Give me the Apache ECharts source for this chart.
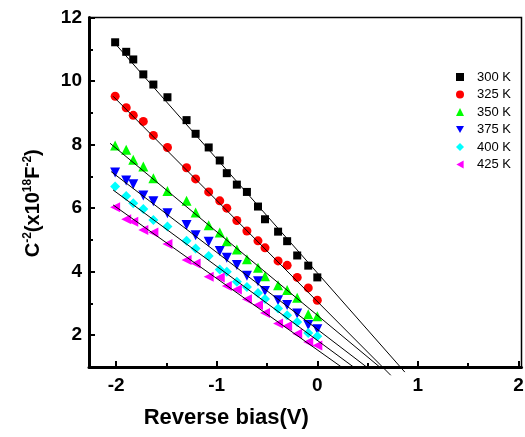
<!DOCTYPE html>
<html lang="en">
<head>
  <meta charset="UTF-8">
  <title>C-V plot</title>
  <script src="https://cdn.jsdelivr.net/npm/echarts@6/dist/echarts.min.js"></script>
  <style>
    html, body { margin: 0; padding: 0; background: #fff; }
    #chart { width: 525px; height: 437px; }
  </style>
</head>
<body>
  <div id="chart"></div>
  <script>
    // reverse bias voltages (shared by all temperatures)
    var bias = [-2.01, -1.90, -1.83, -1.73, -1.63, -1.49, -1.30, -1.21, -1.08, -0.97,
                -0.90, -0.80, -0.70, -0.59, -0.52, -0.39, -0.30, -0.20, -0.09, 0.00];

    var names = ['300 K', '325 K', '350 K', '375 K', '400 K', '425 K'];

    // C^-2 values (x10^18 F^-2)
    var c300 = [11.22, 10.92, 10.68, 10.21, 9.89, 9.49, 8.77, 8.34, 7.91, 7.50,
                7.10, 6.74, 6.51, 6.05, 5.65, 5.26, 4.96, 4.51, 4.19, 3.82];
    var c325 = [9.52, 9.16, 8.92, 8.73, 8.29, 7.91, 7.27, 6.92, 6.51, 6.23,
                6.00, 5.61, 5.28, 4.97, 4.75, 4.34, 4.20, 3.82, 3.49, 3.10];
    var c350 = [7.97, 7.84, 7.52, 7.31, 6.94, 6.54, 6.23, 5.86, 5.46, 5.23,
                4.96, 4.70, 4.39, 4.12, 3.86, 3.57, 3.42, 3.18, 2.66, 2.60];
    var c375 = [7.12, 6.87, 6.75, 6.40, 6.22, 5.84, 5.47, 5.15, 4.94, 4.65,
                4.44, 4.21, 3.87, 3.70, 3.39, 3.10, 2.95, 2.68, 2.32, 2.19];
    var c400 = [6.68, 6.38, 6.15, 5.97, 5.63, 5.42, 4.97, 4.73, 4.49, 4.07,
                4.00, 3.68, 3.52, 3.33, 3.14, 2.84, 2.63, 2.42, 2.07, 1.97];
    var c425 = [6.03, 5.65, 5.57, 5.31, 5.23, 4.87, 4.37, 4.26, 3.84, 3.82,
                3.55, 3.44, 3.13, 2.95, 2.70, 2.37, 2.29, 2.05, 1.79, 1.68];

    // linear fit lines: start and end points
    var fitX0 = [-2.03, -2.03, -2.06, -2.05, -2.03, -2.03];
    var fitY0 = [11.25, 9.52, 8.04, 7.15, 6.57, 6.10];
    var fitX1 = [0.87, 0.73, 0.62, 0.49, 0.36, 0.24];
    var fitY1 = [0.84, 0.74, 1.00, 1.00, 1.00, 1.00];

    var xMajor = [-2, -1, 0, 1, 2];
    var xMinor = [-1.5, -0.5, 0.5, 1.5];
    var yMajor = [2, 4, 6, 8, 10, 12];
    var yMinor = [3, 5, 7, 9, 11];

    var allData = [c300, c325, c350, c375, c400, c425];
    var colors = ['#000000', '#ff0000', '#00ff00', '#0000ff', '#00ffff', '#ff00ff'];
    var symbols = ['rect', 'circle', 'triangle', 'path://M0,0L10,0L5,9Z', 'diamond', 'path://M9,0L9,10L0,5Z'];
    var sizes = [8, 9, 10, 10, 10, 10];

    var chart = echarts.init(document.getElementById('chart'), null, { renderer: 'canvas' });
    var font = 'Liberation Sans, Arial, sans-serif';

    var series = [];
    for (var i = 0; i < names.length; i++) {
      var pts = [];
      for (var j = 0; j < bias.length; j++) {
        pts.push([bias[j], allData[i][j]]);
      }
      series.push({
        name: names[i],
        type: 'scatter',
        symbol: symbols[i],
        symbolSize: sizes[i],
        itemStyle: { color: colors[i], opacity: 1 },
        data: pts,
        z: 2
      });
    }
    for (var k = 0; k < names.length; k++) {
      series.push({
        name: 'fit ' + names[k],
        type: 'line',
        showSymbol: false,
        clip: false,
        silent: true,
        lineStyle: { color: '#000', width: 1 },
        data: [[fitX0[k], fitY0[k]], [fitX1[k], fitY1[k]]],
        z: 3
      });
    }

    var option = {
      animation: false,
      backgroundColor: '#fff',
      grid: {
        left: 89, right: 3.5, top: 17.5, bottom: 70,
        show: true, borderColor: '#000', borderWidth: 1.5,
        containLabel: false, outerBoundsMode: 'none'
      },
      legend: {
        orient: 'vertical',
        left: 451,
        top: 65,
        itemWidth: 8,
        itemHeight: 8,
        itemGap: 3.5,
        data: names,
        textStyle: { fontFamily: font, fontSize: 13, color: '#000', lineHeight: 14, padding: [0, 0, 0, 8] }
      },
      xAxis: [
        {
          type: 'value',
          min: -2.27,
          max: 2.03,
          position: 'bottom',
          splitLine: { show: false },
          axisLine: { onZero: false, lineStyle: { color: '#000', width: 3 } },
          axisTick: { inside: true, length: 6, lineStyle: { color: '#000', width: 2 }, customValues: xMajor },
          axisLabel: { customValues: xMajor, color: '#000', fontFamily: font, fontWeight: 'bold', fontSize: 19, margin: 9 },
          name: 'Reverse bias(V)',
          nameLocation: 'middle',
          nameGap: 40,
          nameTextStyle: { color: '#000', fontFamily: font, fontWeight: 'bold', fontSize: 22, padding: [0, 158, 0, 0] }
        },
        {
          type: 'value',
          min: -2.27,
          max: 2.03,
          position: 'bottom',
          splitLine: { show: false },
          axisLine: { show: false, onZero: false },
          axisTick: { inside: true, length: 4, lineStyle: { color: '#000', width: 2 }, customValues: xMinor },
          axisLabel: { show: false }
        }
      ],
      yAxis: [
        {
          type: 'value',
          min: 1,
          max: 12,
          position: 'left',
          splitLine: { show: false },
          axisLine: { onZero: false, lineStyle: { color: '#000', width: 3 } },
          axisTick: { inside: true, length: 6, lineStyle: { color: '#000', width: 2 }, customValues: yMajor },
          axisLabel: { customValues: yMajor, color: '#000', fontFamily: font, fontWeight: 'bold', fontSize: 19, margin: 7 },
          name: '{b|C}{s|-2}{b|(x10}{s|18}{b|F}{s|-2}{b|)}',
          nameLocation: 'middle',
          nameGap: 45,
          nameRotate: 90,
          nameTextStyle: {
            padding: [0, 22, 0, 0],
            rich: {
              b: { color: '#000', fontFamily: font, fontWeight: 'bold', fontSize: 20, lineHeight: 22 },
              s: { color: '#000', fontFamily: font, fontWeight: 'bold', fontSize: 12, lineHeight: 13, verticalAlign: 'top' }
            }
          }
        },
        {
          type: 'value',
          min: 1,
          max: 12,
          position: 'left',
          splitLine: { show: false },
          axisLine: { show: false, onZero: false },
          axisTick: { inside: true, length: 4, lineStyle: { color: '#000', width: 2 }, customValues: yMinor },
          axisLabel: { show: false }
        }
      ],
      series: series
    };

    chart.setOption(option);
  </script>
</body>
</html>
